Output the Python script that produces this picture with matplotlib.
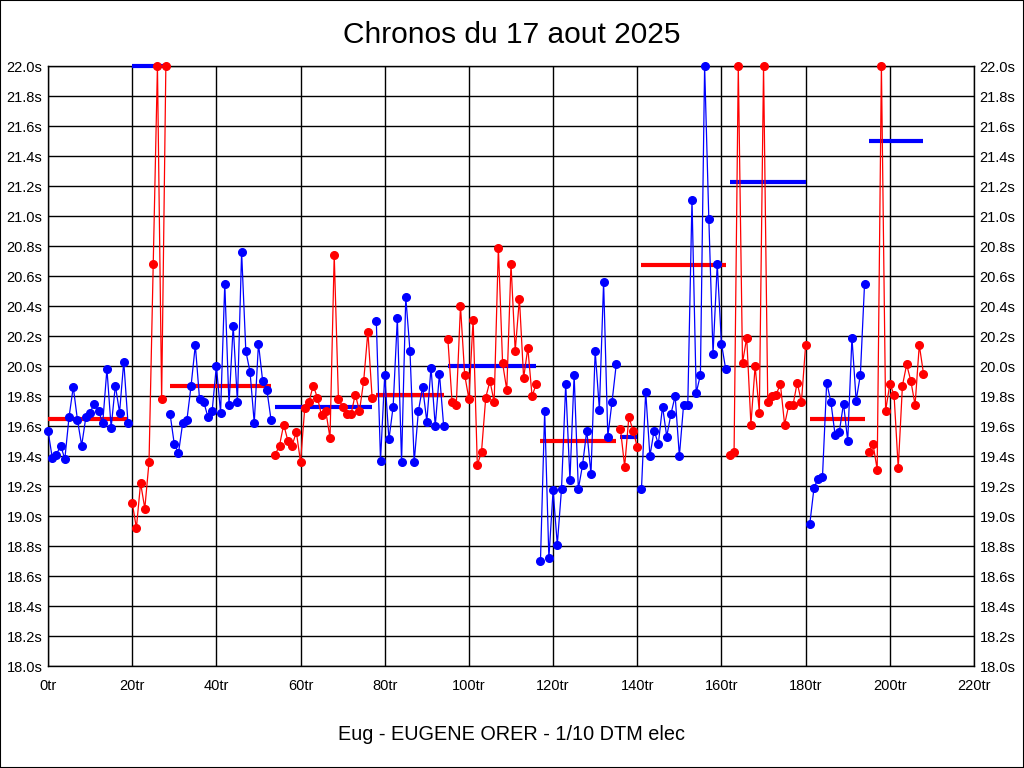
import numpy as np
import matplotlib
matplotlib.use("Agg")
import matplotlib.pyplot as plt

plt.rcParams['font.family'] = ['Liberation Sans', 'DejaVu Sans']

# lap times (s), one value per lap (22.0 = clipped at top)
lap_times = [
    19.57, 19.39, 19.41, 19.47, 19.38, 19.66, 19.86, 19.64, 19.47, 19.66,
    19.69, 19.75, 19.70, 19.62, 19.98, 19.59, 19.87, 19.69, 20.03, 19.62,
    19.09, 18.92, 19.22, 19.05, 19.36, 20.68, 22.00, 19.78, 22.00,
    19.68, 19.48, 19.42, 19.62, 19.64, 19.87, 20.14, 19.78, 19.76, 19.66,
    19.70, 20.00, 19.69, 20.55, 19.74, 20.27, 19.76, 20.76, 20.10, 19.96,
    19.62, 20.15, 19.90, 19.84, 19.64,
    19.41, 19.47, 19.61, 19.50, 19.47, 19.56, 19.36, 19.72, 19.76, 19.87,
    19.79, 19.67, 19.70, 19.52, 20.74, 19.78, 19.73, 19.68, 19.68, 19.81,
    19.70, 19.90, 20.23, 19.79,
    20.30, 19.37, 19.94, 19.51, 19.73, 20.32, 19.36, 20.46, 20.10, 19.36,
    19.70, 19.86, 19.63, 19.99, 19.60, 19.95, 19.60,
    20.18, 19.76, 19.74, 20.40, 19.94, 19.78, 20.31, 19.34, 19.43, 19.79,
    19.90, 19.76, 20.79, 20.02, 19.84, 20.68, 20.10, 20.45, 19.92, 20.12,
    19.80, 19.88,
    18.70, 19.70, 18.72, 19.17, 18.81, 19.18, 19.88, 19.24, 19.94, 19.18,
    19.34, 19.57, 19.28, 20.10, 19.71, 20.56, 19.53, 19.76, 20.01,
    19.58, 19.33, 19.66, 19.57, 19.46,
    19.18, 19.83, 19.40, 19.57, 19.48, 19.73, 19.53, 19.68, 19.80, 19.40,
    19.74, 19.74, 21.11, 19.82, 19.94, 22.00, 20.98, 20.08, 20.68, 20.15,
    19.98,
    19.41, 19.43, 22.00, 20.02, 20.19, 19.61, 20.00, 19.69, 22.00, 19.76,
    19.80, 19.81, 19.88, 19.61, 19.74, 19.74, 19.89, 19.76, 20.14,
    18.95, 19.19, 19.25, 19.26, 19.89, 19.76, 19.54, 19.56, 19.75, 19.50,
    20.19, 19.77, 19.94, 20.55,
    19.43, 19.48, 19.31, 22.00, 19.70, 19.88, 19.81, 19.32, 19.87, 20.01,
    19.90, 19.74, 20.14, 19.95,
]

# first lap of each stint and the average drawn for it
stint_starts = [0, 20, 29, 54, 78, 95, 117, 136, 141, 162, 181, 195]
stint_avgs = [19.65, 22.00, 19.87, 19.73, 19.81, 20.00, 19.50, 19.53, 20.67, 21.23, 19.65, 21.50]

y_ticks = np.arange(18.0, 22.01, 0.2)
x_ticks = np.arange(0, 221, 20)

laps = np.arange(len(lap_times))
times = np.array(lap_times)
bounds = stint_starts + [len(lap_times)]

fig = plt.figure(figsize=(10.24, 7.68), dpi=100)
ax = fig.add_axes([48 / 1024, 1 - 666 / 768, 926 / 1024, 600 / 768])

for k in range(len(stint_starts)):
    a, b = bounds[k], bounds[k + 1]
    col = 'blue' if k % 2 == 0 else 'red'
    avg_col = 'red' if k % 2 == 0 else 'blue'
    ax.plot([laps[a], laps[b - 1]], [stint_avgs[k]] * 2, color=avg_col, lw=3, zorder=3,
            solid_capstyle='butt', clip_on=False)
    ax.plot(laps[a:b], times[a:b], color=col, lw=0.9, marker='o', ms=5.5,
            zorder=4, clip_on=False)

ax.set_xlim(0, 220)
ax.set_ylim(18.0, 22.0)
ax.set_xticks(x_ticks)
ax.set_xticklabels([f'{v}tr' for v in x_ticks])
ax.set_yticks(y_ticks)
ax.set_yticklabels([f'{v:.1f}s' for v in y_ticks])
ax.tick_params(axis='both', length=0, labelsize=10.5, colors='black')
ax.tick_params(axis='x', pad=9)
ax.tick_params(axis='y', pad=4, labelright=True)
ax.grid(True, color='black', lw=1)
ax.set_axisbelow(True)
for s in ax.spines.values():
    s.set_color('black')
    s.set_linewidth(1)

fig.text(0.5, 1 - 35 / 768, 'Chronos du 17 aout 2025', ha='center', va='center', fontsize=21.5)
fig.text(0.5, 1 - 735 / 768, 'Eug - EUGENE ORER - 1/10 DTM elec', ha='center', va='center', fontsize=14.3)

# thin frame around the whole image
fig.patches.append(plt.Rectangle((0, 0), 1, 1, transform=fig.transFigure, fill=False,
                                 edgecolor='black', lw=1.5))

fig.savefig('out.png', dpi=100)
